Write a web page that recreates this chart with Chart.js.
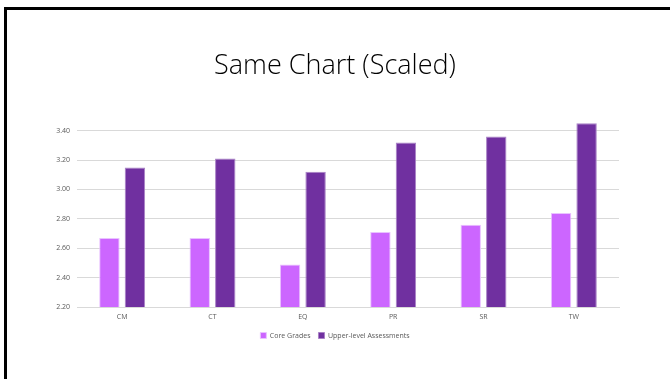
<!DOCTYPE html>
<html>
<head>
<meta charset="utf-8">
<script src="https://cdn.jsdelivr.net/npm/chart.js@4/dist/chart.umd.min.js"></script>
<style>
  html, body { margin: 0; padding: 0; background: #ffffff; }
  #wrap { position: relative; width: 670px; height: 379px; overflow: hidden; background: #fff; }
  #frame { position: absolute; left: 4px; top: 7px; width: 700px; height: 400px;
           border-left: 3px solid #000; border-top: 3px solid #000; box-sizing: border-box; }
  #c { position: absolute; left: 0; top: 0; }
</style>
</head>
<body>
<div id="wrap">
  <div id="frame"></div>
  <canvas id="c" width="670" height="379"></canvas>
</div>
<script>
const categories = ["CM", "CT", "EQ", "PR", "SR", "TW"];
const coreGrades = [2.67, 2.67, 2.49, 2.71, 2.76, 2.84];
const upperLevel = [3.15, 3.21, 3.12, 3.32, 3.36, 3.45];
const seriesNames = ["Core Grades", "Upper-level Assessments"];
const yTicks = [2.20, 2.40, 2.60, 2.80, 3.00, 3.20, 3.40];
const titleText = "Same Chart (Scaled)";

const smallFont = { family: "'Open Sans', 'DejaVu Sans', sans-serif", size: 7 };

new Chart(document.getElementById('c'), {
  type: 'bar',
  data: {
    labels: categories,
    datasets: [
      { label: seriesNames[0], data: coreGrades, backgroundColor: '#CC66FF',
        borderColor: '#E9C2FF', borderWidth: 1, barPercentage: 0.8, categoryPercentage: 0.565 },
      { label: seriesNames[1], data: upperLevel, backgroundColor: '#7030A0',
        borderColor: '#A982C6', borderWidth: 1, barPercentage: 0.8, categoryPercentage: 0.565 }
    ]
  },
  options: {
    responsive: false,
    animation: false,
    devicePixelRatio: 1,
    layout: { padding: { left: 0, right: 0, top: 0, bottom: 30 } },
    plugins: {
      title: {
        display: true, text: titleText, color: '#000000',
        font: { family: "'Open Sans', sans-serif", size: 27, weight: '300' },
        padding: { top: 50, bottom: 38 }
      },
      legend: {
        position: 'bottom',
        labels: { boxWidth: 6, boxHeight: 6, color: '#595959', font: smallFont, padding: 8 }
      },
      tooltip: { enabled: false }
    },
    scales: {
      x: {
        grid: { display: false, drawTicks: false },
        border: { display: true, color: '#D9D9D9', width: 1 },
        ticks: { color: '#595959', font: smallFont, padding: 6 },
        afterFit: s => { s.height = 17; }
      },
      y: {
        min: 2.2, max: 3.47,
        afterBuildTicks: s => { s.ticks = yTicks.map(v => ({ value: v })); },
        grid: { color: '#D9D9D9', drawTicks: false },
        border: { display: false },
        ticks: { color: '#595959', font: smallFont, padding: 7,
                 callback: v => Number(v).toFixed(2) },
        afterFit: s => { s.width = 77; }
      },
      yRightSpace: {
        position: 'right',
        display: true,
        grid: { display: false },
        border: { display: false },
        ticks: { display: false },
        afterFit: s => { s.width = 51; }
      }
    }
  }
});
</script>
</body>
</html>
